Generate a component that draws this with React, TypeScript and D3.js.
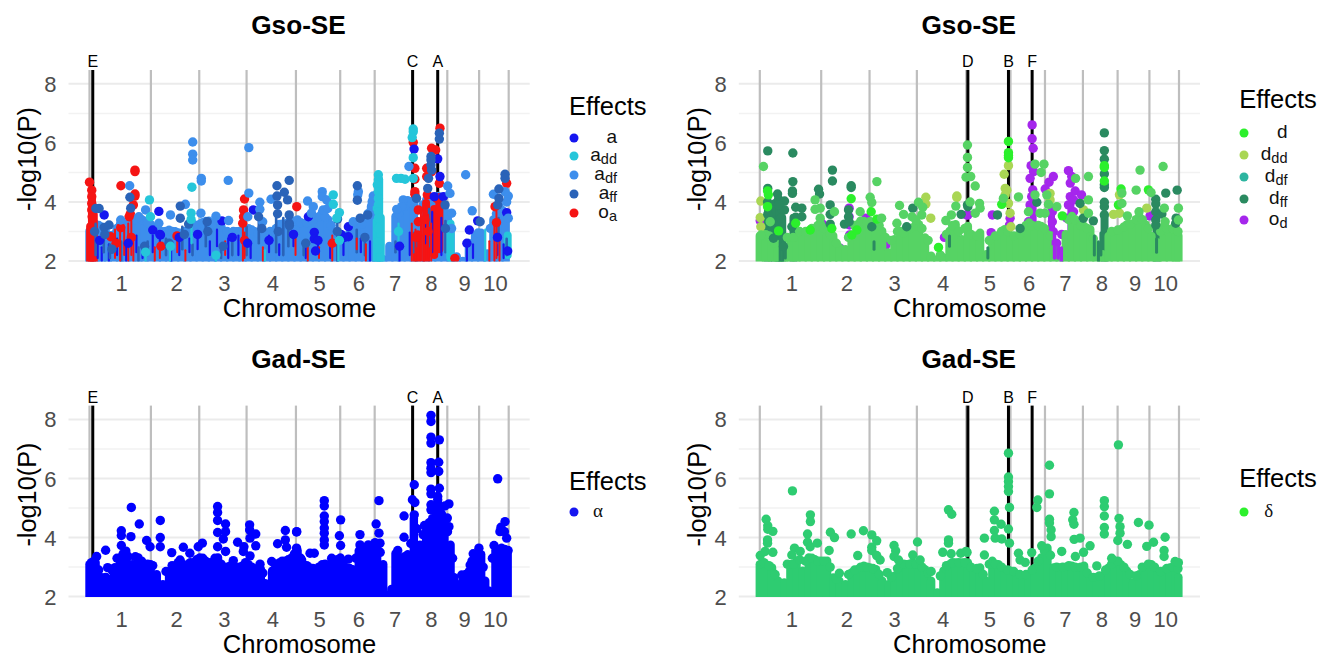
import React from 'react';
import * as d3 from 'd3';

type Dot = [number, number];
type Stem = [number, number];
type Streak = [number, number, number];

// cumulative chromosome ends, Mb
const chromEnds = [301, 538, 770, 1012, 1229, 1398, 1584, 1754, 1910, 2055];
const chromLabels = ['1', '2', '3', '4', '5', '6', '7', '8', '9', '10'];
const yTicks = [2, 4, 6, 8];
const yMinor = [3, 5, 7];

const additiveMarkers: [string, number][] = [['E', 16], ['C', 1584], ['A', 1707]];
const dominanceMarkers: [string, number][] = [['D', 1020], ['B', 1219], ['F', 1335]];

// Gso-SE additive, top left
const gsoAdfMass: Stem[] = [[0,3.16],[30,3.4],[60,3.3],[90,3.05],[120,3.05],[150,3.4],[180,3.4],[210,3.5],[240,3.55],[270,3.5],[300,3.4],[330,3.15],[360,3.15],[390,3.2],[420,3.15],[450,3.0],[480,3.15],[510,3.4],[540,3.4],[570,3.5],[600,3.4],[630,3.4],[660,3.15],[690,3.1],[720,3.15],[750,3.15],[780,3.25],[810,3.15],[840,3.05],[870,3.05],[900,3.15],[930,3.4],[960,3.4],[990,3.5],[1020,3.55],[1050,3.3],[1080,3.55],[1110,3.55],[1140,3.8],[1170,3.55],[1200,3.1],[1230,3.0],[1260,3.0],[1290,3.1],[1320,3.3],[1350,3.55],[1380,4.0],[1405,3.9],[1440,2.2],[1470,2.65],[1500,3.65],[1530,3.9],[1560,4.2],[1590,4.2],[1620,3.3],[1650,4.2],[1680,4.1],[1710,4.35],[1740,4.0],[1770,3.1],[1800,2.3],[1830,2.1],[1860,2.75],[1890,3.0],[1920,3.1],[1950,2.4],[1980,3.55],[2010,4.0],[2040,3.55]];
const gsoAdfRidge: Dot[] = [[15,3.0],[45,3.2],[75,3.05],[105,2.85],[135,3.1],[165,3.2],[195,3.3],[225,3.4],[255,3.4],[285,3.3],[315,3.1],[345,3.0],[375,3.0],[405,3.0],[435,2.95],[465,3.0],[495,3.1],[525,3.2],[555,3.3],[585,3.35],[615,3.25],[645,3.15],[675,3.0],[705,3.0],[735,3.0],[765,3.05],[795,3.05],[825,2.95],[855,2.9],[885,3.0],[915,3.1],[945,3.25],[975,3.3],[1005,3.35],[1035,3.3],[1065,3.3],[1095,3.4],[1125,3.5],[1155,3.5],[1185,3.2],[1215,2.95],[1245,2.85],[1275,2.9],[1305,3.05],[1335,3.25],[1365,3.6],[1515,3.6],[1545,3.85],[1575,4.0],[1635,3.9],[1665,4.0],[1695,4.1],[1725,4.0],[1755,3.4],[1905,2.95],[1965,3.1],[1995,3.6],[2025,3.7]];
const gsoOaColumns: Streak[] = [[3,2,3.3],[12,2,4.3],[21,2,3.7],[1603,2,2.9],[1650,2,4.1],[1690,2.2,3.9],[1715,2.4,4.3]];
const gsoAddColumns: Streak[] = [[1408,2,4.4],[1420,2,4.9],[1428,2,3.6],[2050,2.2,3.0],[1770,2.1,3.4]];
const gsoOaStreaks: Streak[] = [[125,2.1,3.1],[150,2,3.0],[170,2.2,3.2],[190,2,3.3],[205,2.2,3.4],[215,2,2.9],[320,2,2.5],[345,2.1,2.6],[430,2.3,2.9],[470,2,2.4],[665,2.2,2.7],[752,2,3.3],[760,2.1,3.0],[850,2,2.5],[1010,2.2,3.0],[1070,2,2.6],[1125,2.1,2.5],[1190,2,2.9],[1310,2.4,2.8],[1355,2,2.6],[1580,2,3.3],[1598,2,3.1],[1625,2,3.7],[1640,2,3.9],[1660,2.1,3.6],[1675,2,3.3],[1700,2.2,3.6],[1985,2,3.4],[1995,2.1,3.7],[2010,2,2.8],[1960,2,2.7]];
const gsoAStreaks: Streak[] = [[40,2.1,2.6],[60,2,2.5],[95,2,2.6],[135,2.2,2.8],[180,2,2.5],[230,2.3,2.9],[260,2.1,2.6],[310,2.3,2.9],[345,2.5,3.0],[400,2,2.4],[440,2.2,2.7],[490,2.3,2.8],[530,2.4,3.0],[590,2.2,2.7],[625,2.5,3.1],[680,2.1,2.8],[730,2.2,2.9],[790,2.1,2.6],[880,2.3,2.9],[930,2.2,2.6],[1000,2.5,3.0],[1060,2.1,2.7],[1120,2.3,2.8],[1180,2.1,2.6],[1245,2.2,2.8],[1330,2.3,2.8],[1375,2,2.7],[1520,2,2.6],[1570,2.2,3.0],[1645,2.6,3.3],[1680,2.3,3.7],[1725,2.2,3.5],[1850,2,2.7],[1880,2.1,2.6],[2000,2.2,3.0],[2030,2.1,2.6]];
const gsoAffStreaks: Streak[] = [[30,2.2,3.3],[70,2.3,3.1],[100,2.1,2.6],[155,2,2.7],[240,2,2.5],[285,2.2,2.7],[375,2.2,2.8],[455,2.4,3.2],[505,2.2,2.6],[570,2.5,3.3],[645,2.1,2.6],[700,2.2,2.8],[770,2.2,3.2],[830,2.6,3.4],[915,2.3,3.6],[950,2.2,3.5],[975,2.5,3.6],[1050,2.2,2.7],[1215,2,3.3],[1310,2.3,3.1],[1350,2.2,2.9],[1500,2.3,2.7],[1590,2.3,3.0],[1600,2.5,2.9],[1665,2.5,3.8],[1745,2.3,3.4],[2005,2.6,3.5],[2045,2.2,2.8]];
const gsoAddStreaks: Streak[] = [[275,2,2.4],[395,2,2.5],[500,2.6,3.4],[620,2,2.3],[860,2,2.4],[1220,2,3.1],[1940,2,3.1],[1515,2.6,3.3],[1755,2.1,3.0]];

const gsoOa: Dot[] = [[0,4.67],[11,4.4],[11,4.18],[11,3.95],[11,3.73],[13,3.5],[154,4.55],[223,5.03],[223,5.08],[223,4.27],[223,4.2],[215,3.9],[200,3.6],[153,3.13],[194,3.5],[104,2.82],[429,2.85],[760,4.1],[755,3.73],[755,3.5],[751,3.28],[1016,3.84],[1587,6.02],[1595,5.14],[1595,4.77],[1595,4.35],[1595,4.26],[1718,6.5],[1697,5.76],[1677,5.82],[1715,4.63],[1653,5.14],[1653,4.86],[1677,5.03],[1656,4.24],[1988,3.84],[2045,4.63],[1612,3.73],[1612,3.33],[1609,2.88],[1702,4.12],[1791,2.09],[130,2.6],[205,2.8],[350,2.5],[760,2.7],[1190,2.6],[1600,2.8],[1645,3.4],[1660,3.0],[1995,3.3]];
const gsoA: Dot[] = [[340,3.68],[72,3.56],[803,3.73],[649,3.36],[310,3.05],[348,2.88],[1591,5.79],[1073,3.5],[1102,2.97],[1102,2.75],[1269,3.16],[1269,2.82],[1233,2.9],[1862,3.05],[1903,3.36],[2045,3.64],[2050,2.34],[1707,5.46],[1718,4.86],[1735,4.18],[1690,4.18],[1108,2.34],[50,2.7],[190,2.6],[345,2.9],[440,2.8],[530,2.9],[700,2.8],[775,2.6],[880,2.7],[1000,2.9],[1120,2.7],[1250,2.8],[1520,2.5],[1850,2.6],[2000,2.8]];
const gsoAdf: Dot[] = [[197,4.55],[506,6.03],[506,5.62],[506,5.42],[548,4.8],[548,4.71],[680,4.73],[781,5.84],[781,4.3],[470,3.92],[397,3.56],[340,3.28],[835,3.99],[835,3.75],[890,4.09],[546,3.62],[620,3.52],[682,3.37],[275,3.73],[153,3.39],[242,3.5],[776,3.5],[849,3.33],[1566,5.2],[1141,4.35],[1141,4.18],[1069,4.03],[1163,4.07],[1097,3.84],[1146,3.73],[1088,3.62],[1168,3.78],[1391,4.2],[1386,4.01],[1538,4.07],[1530,3.84],[1506,3.75],[1844,4.92],[1876,3.7],[1980,4.26],[1756,4.54],[1767,4.29],[1775,3.62],[1775,3.1],[2053,4.2],[2045,4.0],[2053,3.45],[2037,4.35],[1293,3.33],[1380,3.56],[1318,4.35],[1315,4.24]];
const gsoAff: Dot[] = [[198,4.16],[445,3.86],[47,3.78],[31,3.78],[445,3.45],[486,3.25],[577,3.33],[919,4.55],[979,4.73],[955,4.33],[971,4.07],[919,4.2],[922,3.9],[922,3.6],[979,3.56],[979,3.28],[829,3.5],[72,3.14],[96,3.22],[202,3.79],[1313,4.55],[1313,4.06],[2037,4.94],[2037,4.8],[2007,4.44],[2001,3.9],[2007,4.12],[1674,5.25],[1674,5.54],[1674,5.42],[1715,6.33],[1715,6.13],[1658,4.46],[1662,4.8],[1216,3.42],[1364,3.56],[1327,3.45],[1603,4.12],[1743,3.9],[1677,5.08],[1915,3.33],[25,3.0],[75,2.9],[110,2.4],[270,2.5],[390,2.6],[465,2.9],[580,3.0],[655,2.5],[845,3.1],[925,3.0],[980,3.2],[1060,2.6],[1215,3.0],[1350,2.8],[1745,3.1]];
const gsoAdd: Dot[] = [[502,4.5],[294,4.07],[299,3.5],[498,3.62],[498,3.41],[397,2.5],[1587,6.47],[1587,6.38],[1582,6.18],[1587,5.5],[1587,4.8],[1416,4.92],[1416,4.75],[1411,4.58],[1416,4.35],[1416,4.12],[1416,3.9],[1416,3.67],[1416,3.45],[1416,3.1],[1416,2.65],[1418,2.4],[1195,4.24],[1195,3.92],[1225,3.64],[1212,3.45],[1527,4.8],[1547,4.77],[1505,4.8],[275,2.3],[620,2.2],[1515,3.0],[1225,2.7]];

// Gso-SE dominance, top right
const gsoDfMass: Stem[] = [[0,3.0],[30,3.05],[60,2.88],[90,2.65],[120,2.43],[150,2.77],[180,2.88],[210,3.0],[240,3.1],[270,3.16],[300,3.39],[330,3.05],[360,3.0],[390,2.6],[420,2.54],[450,2.94],[480,3.39],[510,3.5],[540,3.5],[570,3.39],[600,3.16],[630,2.43],[660,2.88],[690,3.16],[720,3.05],[750,3.28],[780,3.39],[810,2.94],[840,2.32],[870,2.2],[900,2.26],[930,3.16],[960,3.39],[990,2.88],[1020,3.33],[1050,2.99],[1080,3.1],[1110,2.37],[1140,2.88],[1170,2.99],[1200,3.22],[1230,2.99],[1260,2.99],[1290,3.1],[1320,3.45],[1350,3.33],[1380,3.33],[1410,3.05],[1440,2.54],[1470,2.2],[1500,3.05],[1530,3.67],[1560,3.33],[1590,3.33],[1620,3.22],[1650,2.65],[1680,2.37],[1710,2.99],[1740,3.1],[1770,3.22],[1800,3.39],[1830,3.33],[1860,3.67],[1890,3.39],[1920,2.99],[1950,2.77],[1980,3.33],[2010,2.99],[2040,3.22],[2052,3.0]];
const gsoDfRidge: Dot[] = [[15,2.9],[45,2.85],[75,2.6],[135,2.8],[165,2.8],[195,3.0],[225,3.0],[255,3.1],[285,3.2],[315,3.1],[345,2.9],[375,2.6],[435,2.8],[465,3.2],[495,3.35],[525,3.3],[555,3.3],[585,3.2],[615,2.8],[645,2.7],[675,3.0],[705,2.95],[735,3.1],[765,3.2],[795,3.1],[825,2.7],[885,2.2],[915,2.9],[945,3.2],[975,3.0],[1005,3.1],[1035,2.9],[1065,2.85],[1125,2.7],[1155,2.85],[1185,3.0],[1215,3.0],[1245,2.85],[1275,2.9],[1305,3.2],[1335,3.2],[1365,3.2],[1395,3.1],[1425,2.85],[1515,3.4],[1545,3.4],[1575,3.2],[1605,3.1],[1635,2.75],[1725,3.0],[1755,3.05],[1785,3.15],[1815,3.25],[1845,3.4],[1875,3.4],[1905,3.1],[1965,3.0],[1995,3.1],[2025,3.1],[2050,3.0]];
const gsoDffColumns: Streak[] = [[40,2,3.9],[75,2,4.1],[95,2,4.0],[110,2,3.6],[165,2,3.6],[1690,2,3.6],[1945,2,3.3]];
const gsoDffStreaks: Streak[] = [[100,2,2.7],[112,2,2.5],[125,2.1,2.5],[1118,2.1,2.5],[1640,2.2,2.9],[1660,2,2.7],[1672,2.2,3.0],[1945,2.3,2.8],[560,2.4,2.7],[930,2.5,2.9]];
const gsoOdStreaks: Streak[] = [[1445,2.1,3.0],[1462,2.1,2.7],[1478,2,2.5]];
const gsoOdColumns: Streak[] = [[1340,2.6,4.0],[1430,2.4,3.9],[1525,2.8,4.1]];
const gsoOd: Dot[] = [[438,3.79],[438,3.5],[440,3.22],[516,3.28],[520,3.45],[440,2.88],[905,2.8],[1020,3.56],[51,2.54],[618,2.54],[394,2.43],[304,3.28],[2,3.36],[1335,6.61],[1335,6.14],[1340,5.82],[1330,5.23],[1342,5.03],[1325,4.8],[1338,4.41],[1333,4.18],[1325,3.9],[1317,3.33],[1358,2.99],[1439,4.86],[1418,4.67],[1399,4.44],[1434,3.67],[1434,3.33],[1439,2.99],[1455,2.6],[1480,2.9],[1477,2.32],[1513,5.06],[1522,4.64],[1529,4.86],[1546,4.37],[1577,4.24],[1522,4.18],[1513,3.9],[1538,4.07],[1538,3.67],[1505,3.45],[1140,3.56],[1134,2.96],[1227,3.45],[1224,3.22],[1913,3.53],[1014,3.56]];
const gsoDdd: Dot[] = [[5,4.03],[2,3.47],[5,3.16],[814,4.16],[814,3.93],[838,3.45],[966,4.2],[966,4.15],[1219,5.23],[1198,4.94],[1203,4.46],[1211,4.4],[1203,4.24],[1227,3.62],[1231,3.16],[1423,4.29],[1423,4.07],[1587,3.73],[1763,4.24],[1763,3.62],[1734,3.58],[1897,3.79],[1219,3.95]];
const gsoDff: Dot[] = [[39,5.73],[162,5.66],[356,5.08],[356,4.71],[162,4.69],[160,4.37],[160,4.29],[39,4.46],[288,4.43],[293,4.27],[448,4.55],[448,4.49],[87,4.27],[92,4.09],[121,4.03],[108,3.75],[121,3.73],[92,3.9],[38,4.0],[39,3.58],[345,3.9],[345,3.58],[345,3.25],[176,3.82],[206,3.79],[176,3.48],[206,3.5],[157,3.16],[435,3.73],[435,3.5],[415,3.25],[438,3.33],[549,3.16],[750,3.79],[720,3.16],[987,3.58],[1018,3.9],[103,3.45],[116,2.49],[67,2.77],[1689,6.34],[1689,5.74],[1689,5.45],[1689,4.95],[1689,4.58],[1689,4.49],[1689,3.99],[1689,3.84],[1689,3.56],[1941,4.09],[1941,3.93],[1941,3.67],[1941,3.39],[1941,3.22],[1990,4.3],[2046,4.4],[2041,3.45],[2039,3.28],[1358,3.99],[1570,3.95],[1635,3.36],[1971,3.59],[1165,3.56],[1276,3.1],[1020,3.84],[1586,3.45]];
const gsoD: Dot[] = [[38,4.37],[42,4.24],[38,3.84],[448,4.11],[92,3.02],[176,3.28],[247,3.05],[546,3.67],[574,3.42],[451,2.88],[876,2.46],[476,3.05],[353,3.1],[1219,6.05],[1219,5.67],[1219,5.57],[1219,5.5],[1689,5.23],[1689,5.17],[1689,4.71],[1771,4.44],[1905,4.41],[1186,3.92],[1483,3.53],[1758,3.9]];
const gsoDfLight: Dot[] = [[18,5.2],[574,4.69],[271,4.07],[271,3.75],[296,3.79],[366,3.67],[541,4.16],[549,3.98],[597,3.45],[685,3.88],[705,3.58],[746,3.5],[778,3.99],[799,3.82],[794,3.56],[765,3.39],[672,3.28],[961,3.86],[939,3.56],[912,3.37],[1018,5.93],[1018,5.51],[1018,5.17],[1011,4.84],[1034,4.86],[1031,4.0],[51,3.33],[7,2.88],[296,3.45],[492,3.67],[1349,5.28],[1393,5.28],[1379,5.0],[1864,5.08],[1977,5.2],[1611,4.86],[1548,4.8],[1056,4.54],[1077,3.95],[1080,3.79],[1056,3.62],[1268,4.17],[1349,4.24],[1407,4.24],[1415,3.92],[1456,3.84],[1611,4.07],[1611,3.62],[1775,4.3],[1775,3.95],[1845,4.4],[1918,4.32],[1983,3.79],[2052,3.79],[1802,3.53],[1859,3.67],[1317,3.67],[1374,3.62],[1398,3.62],[1194,4.12],[2052,3.39],[1987,3.33]];

// Gad-SE additive, bottom left
const gadAlphaMass: Stem[] = [[0,3.24],[30,3.3],[60,2.8],[90,2.73],[120,2.96],[150,3.47],[180,3.7],[210,3.24],[240,3.47],[270,3.2],[300,3.24],[330,2.9],[360,2.56],[390,2.96],[420,3.2],[450,3.3],[480,3.24],[510,3.3],[540,3.47],[570,3.36],[600,3.3],[630,3.47],[660,3.07],[690,3.2],[720,3.02],[750,3.2],[780,3.24],[810,3.02],[840,3.07],[862,2.6],[895,3.02],[930,3.3],[960,3.36],[990,3.47],[1020,3.7],[1050,3.24],[1080,3.13],[1110,3.0],[1140,3.24],[1170,3.13],[1200,3.36],[1230,3.47],[1260,3.13],[1290,3.07],[1320,3.7],[1350,3.8],[1380,3.8],[1410,3.92],[1440,3.24],[1460,2.2],[1480,2.4],[1500,3.6],[1530,3.47],[1560,3.58],[1590,4.8],[1620,3.9],[1650,4.37],[1680,4.8],[1710,5.3],[1740,4.7],[1770,3.9],[1788,2.8],[1805,2.56],[1830,2.73],[1860,3.0],[1890,3.47],[1920,3.58],[1940,2.68],[1960,2.34],[1990,3.7],[2020,3.8],[2050,3.7]];
const gadAlphaRidge: Dot[] = [[10,3.15],[22,3.2],[45,2.9],[80,2.65],[110,2.9],[135,3.3],[165,3.45],[190,3.35],[225,3.35],[255,3.2],[285,3.1],[310,3.05],[375,2.85],[405,3.05],[435,3.15],[465,3.05],[495,3.15],[525,3.25],[555,3.3],[585,3.15],[615,3.3],[645,3.1],[675,3.0],[705,3.05],[735,3.0],[765,3.15],[795,3.0],[825,2.95],[850,2.8],[910,3.1],[945,3.2],[975,3.25],[1005,3.45],[1035,3.3],[1065,3.05],[1095,2.95],[1125,3.0],[1155,3.1],[1185,3.1],[1215,3.25],[1245,3.2],[1275,2.95],[1305,3.3],[1335,3.6],[1365,3.6],[1395,3.7],[1425,3.5],[1515,3.3],[1545,3.35],[1575,3.8],[1605,4.3],[1635,4.1],[1665,4.5],[1695,4.9],[1725,4.8],[1755,4.2],[1780,3.3],[1845,2.75],[1875,3.2],[1905,3.4],[1930,3.0],[1975,3.3],[2005,3.6],[2035,3.6]];
const gadAlpha: Dot[] = [[205,5.02],[244,4.46],[347,4.58],[79,3.57],[156,4.23],[156,4.07],[156,3.73],[203,4.03],[280,3.9],[347,4.0],[347,3.69],[297,3.69],[403,3.49],[460,3.67],[492,3.47],[553,3.81],[533,3.69],[628,5.05],[628,4.85],[628,4.58],[628,4.17],[667,4.46],[667,4.2],[656,3.95],[628,3.69],[667,3.53],[726,3.84],[785,4.43],[785,4.26],[815,4.12],[787,3.98],[815,3.72],[757,3.69],[754,3.53],[787,3.38],[960,4.24],[960,3.92],[1015,4.19],[922,3.79],[1015,3.64],[966,3.67],[89,2.98],[125,2.98],[35,3.36],[444,3.24],[705,3.22],[836,3.1],[893,3.19],[1040,3.24],[1674,8.14],[1674,7.93],[1674,7.4],[1674,7.2],[1715,7.31],[1674,6.54],[1674,6.35],[1674,6.2],[1712,6.55],[1712,6.24],[1715,5.67],[1674,5.64],[1674,5.48],[1707,5.39],[1707,5.28],[1674,5.11],[1674,4.94],[1742,5.07],[1762,5.14],[1592,5.79],[1583,5.28],[1595,5.19],[1542,4.73],[1542,4.01],[1642,4.41],[1592,4.77],[2001,5.99],[1151,5.25],[1151,5.07],[1151,4.73],[1151,4.54],[1151,4.32],[1151,4.15],[1151,3.92],[1151,3.75],[1231,4.6],[1225,4.06],[1231,3.73],[1419,5.25],[1405,4.46],[1419,4.15],[1326,4.1],[1326,3.75],[1269,3.27],[1016,4.2],[1081,3.47],[1102,3.47],[1187,3.3],[1367,3.75],[1400,3.83],[1424,3.81],[1511,3.56],[2037,4.54],[2017,4.35],[2034,4.2],[2012,4.2],[2045,3.98],[1983,3.73],[1909,3.64],[1881,3.45],[1866,3.07],[1825,2.73],[2052,3.56],[1762,4.37],[1754,4.66]];

// Gad-SE dominance, bottom right
const gadDeltaMass: Stem[] = [[0,3.24],[30,3.24],[60,3.13],[90,2.68],[120,2.62],[150,3.24],[180,3.36],[210,3.02],[240,3.47],[270,3.41],[300,3.36],[330,3.36],[360,2.79],[390,2.68],[420,2.56],[450,2.96],[480,3.07],[510,3.19],[540,3.13],[570,3.07],[600,2.68],[630,2.56],[660,2.85],[690,3.19],[720,3.24],[750,3.3],[780,3.24],[810,3.07],[840,2.68],[870,2.28],[900,3.02],[930,3.24],[960,3.3],[990,3.3],[1020,3.3],[1050,3.07],[1080,3.13],[1110,2.68],[1140,3.36],[1170,3.24],[1200,3.02],[1230,3.02],[1260,2.9],[1290,2.8],[1320,2.9],[1350,3.13],[1380,3.47],[1410,3.8],[1440,3.13],[1470,3.13],[1500,3.13],[1530,3.19],[1560,3.13],[1590,3.19],[1620,2.8],[1650,2.8],[1680,2.85],[1710,3.13],[1740,3.36],[1770,3.24],[1800,3.02],[1830,2.62],[1860,2.9],[1890,3.13],[1920,3.24],[1950,2.9],[1980,3.02],[2010,3.13],[2040,3.13],[2052,2.8]];
const gadDeltaRidge: Dot[] = [[10,3.1],[20,3.15],[45,3.05],[75,2.75],[135,3.1],[165,3.1],[195,3.25],[225,3.2],[255,3.3],[285,3.2],[315,3.2],[345,3.0],[375,2.6],[435,2.75],[465,2.9],[495,3.0],[525,3.0],[555,2.95],[585,2.75],[645,2.65],[675,2.95],[705,3.1],[735,3.1],[765,3.1],[795,3.0],[825,2.8],[885,2.7],[915,3.05],[945,3.15],[975,3.15],[1005,3.15],[1035,3.0],[1065,2.95],[1095,2.75],[1125,3.1],[1155,3.1],[1185,3.0],[1215,2.9],[1245,2.85],[1275,2.75],[1305,2.75],[1335,2.9],[1365,3.2],[1395,3.55],[1425,3.4],[1455,3.0],[1485,3.0],[1515,3.05],[1545,3.0],[1575,3.0],[1605,2.8],[1635,2.65],[1665,2.7],[1695,2.9],[1725,3.1],[1755,3.2],[1785,3.0],[1815,2.75],[1845,2.7],[1875,3.0],[1905,3.1],[1935,3.0],[1965,2.85],[1995,2.95],[2025,3.0],[2050,2.95]];
const gadDelta: Dot[] = [[31,4.62],[39,4.4],[39,4.28],[64,4.21],[38,3.92],[38,3.81],[2,3.39],[26,3.53],[64,3.5],[160,5.58],[248,4.77],[248,4.54],[234,4.12],[234,3.84],[247,3.69],[282,3.81],[340,3.56],[170,3.64],[198,3.53],[157,3.41],[346,4.18],[366,4.0],[448,4.12],[508,4.23],[549,4.09],[573,3.89],[549,3.67],[549,3.56],[480,3.39],[573,3.39],[590,3.24],[658,3.73],[666,3.55],[658,3.36],[680,3.24],[773,3.85],[925,4.94],[941,4.79],[925,3.92],[925,3.81],[897,3.5],[938,3.45],[985,3.47],[1011,3.53],[390,2.79],[625,2.81],[840,2.85],[750,3.41],[786,3.24],[1219,6.86],[1219,6.05],[1219,5.9],[1219,5.73],[1219,5.56],[1224,5.02],[1219,4.29],[1224,3.81],[1420,6.45],[1420,5.48],[1363,5.27],[1358,5.02],[1150,4.89],[1150,4.6],[1183,4.45],[1150,4.24],[1101,3.98],[1154,3.98],[1186,3.95],[1101,3.41],[1268,3.47],[1276,3.24],[1301,3.16],[1333,3.49],[1382,3.72],[1420,4.62],[1420,4.49],[1428,4.26],[1428,4.03],[1480,3.53],[1540,4.85],[1534,4.6],[1540,4.45],[1541,3.94],[1570,3.98],[1619,3.72],[1547,3.36],[1587,3.5],[1652,3.04],[1689,5.25],[1689,5.05],[1689,4.73],[1689,4.34],[1689,4.12],[1758,7.14],[1761,4.65],[1766,4.37],[1766,4.15],[1755,3.9],[1802,3.77],[1856,4.51],[1908,4.42],[1930,3.84],[1897,3.7],[1987,4.01],[1982,3.56],[1982,3.36],[2036,3.19],[2052,3.15],[1725,3.3],[1016,3.5]];

const W = 1331;
const H = 657;
const FONT = '"Liberation Sans", Arial, sans-serif';

const x = d3.scaleLinear().domain([0, 2055]).range([89.5, 508.7]);
const y = d3.scaleLinear().domain([2, 8.47]).range([261, 70]);
const chromStarts = [0, ...chromEnds.slice(0, -1)];
const chromMids = chromEnds.map((e, i) => (e + chromStarts[i]) / 2);

const toStreak = (rows: Stem[]): Streak[] => rows.map(([p, top]) => [p, 2, top]);

type Layer = { rows: Streak[]; colour: string; width: number } | { dots: Dot[]; colour: string };
type LegendItem = { base: string; sub?: string; colour: string; serif?: boolean };

const BLUE = '#1616f0', CYAN = '#25c6da', SKY = '#3d8eec', NAVY = '#2a63b8', RED = '#f51414';
const LIME = '#2cf02c', OLIVE = '#a9d654', TEAL = '#2db5a0', PINE = '#2a8a60', VIOLET = '#a526ec';
const LIGHT = '#56d364', SEA = '#2ecc71';

const panels: {
  title: string; dx: number; dy: number; titleDy: number; markers: [string, number][];
  layers: Layer[]; legend: LegendItem[]; legendTitleY: number; legendYs: number[]; keyX: number; labelX: number;
}[] = [
  {
    title: 'Gso-SE', dx: 0, dy: 0, titleDy: 0, markers: additiveMarkers,
    layers: [
      { rows: toStreak(gsoAdfMass), colour: SKY, width: 8.4 },
      { dots: gsoAdfRidge, colour: SKY },
      { rows: gsoOaColumns, colour: RED, width: 8 },
      { rows: gsoAddColumns, colour: CYAN, width: 8 },
      { rows: gsoAStreaks, colour: BLUE, width: 2.2 },
      { rows: gsoAffStreaks, colour: NAVY, width: 2.6 },
      { rows: gsoOaStreaks, colour: RED, width: 2 },
      { rows: gsoAddStreaks, colour: CYAN, width: 2.2 },
      { dots: gsoOa, colour: RED },
      { dots: gsoA, colour: BLUE },
      { dots: gsoAdf, colour: SKY },
      { dots: gsoAff, colour: NAVY },
      { dots: gsoAdd, colour: CYAN },
    ],
    legend: [
      { base: 'a', colour: BLUE },
      { base: 'a', sub: 'dd', colour: CYAN },
      { base: 'a', sub: 'df', colour: SKY },
      { base: 'a', sub: 'ff', colour: NAVY },
      { base: 'o', sub: 'a', colour: RED },
    ],
    legendTitleY: 115, legendYs: [138, 156, 175, 194, 213], keyX: 574, labelX: 617,
  },
  {
    title: 'Gso-SE', dx: 670.3, dy: 0, titleDy: 0, markers: dominanceMarkers,
    layers: [
      { rows: gsoOdColumns, colour: VIOLET, width: 7 },
      { dots: gsoOd, colour: VIOLET },
      { rows: gsoDffColumns, colour: PINE, width: 8 },
      { rows: toStreak(gsoDfMass), colour: LIGHT, width: 8.4 },
      { dots: gsoDfRidge, colour: LIGHT },
      { rows: gsoDffStreaks, colour: PINE, width: 3 },
      { rows: gsoOdStreaks, colour: VIOLET, width: 3.5 },
      { dots: gsoDdd, colour: OLIVE },
      { dots: gsoDff, colour: PINE },
      { dots: gsoD, colour: LIME },
      { dots: gsoDfLight, colour: LIGHT },
    ],
    legend: [
      { base: 'd', colour: LIME },
      { base: 'd', sub: 'dd', colour: OLIVE },
      { base: 'd', sub: 'df', colour: TEAL },
      { base: 'd', sub: 'ff', colour: PINE },
      { base: 'o', sub: 'd', colour: VIOLET },
    ],
    legendTitleY: 108, legendYs: [133, 155, 177, 199, 220], keyX: 573.7, labelX: 617.2,
  },
  {
    title: 'Gad-SE', dx: 0, dy: 335.6, titleDy: -1.5, markers: additiveMarkers,
    layers: [
      { rows: toStreak(gadAlphaMass), colour: '#0000ff', width: 8.4 },
      { dots: gadAlphaRidge, colour: '#0000ff' },
      { dots: gadAlpha, colour: '#0000ff' },
    ],
    legend: [{ base: 'α', colour: BLUE, serif: true }],
    legendTitleY: 154, legendYs: [176.4], keyX: 574, labelX: 603,
  },
  {
    title: 'Gad-SE', dx: 670.3, dy: 335.6, titleDy: -1.5, markers: dominanceMarkers,
    layers: [
      { rows: toStreak(gadDeltaMass), colour: SEA, width: 8.4 },
      { dots: gadDeltaRidge, colour: SEA },
      { dots: gadDelta, colour: SEA },
    ],
    legend: [{ base: 'δ', colour: LIME, serif: true }],
    legendTitleY: 151, legendYs: [176.4], keyX: 573.7, labelX: 603,
  },
];

function Panel({ p, index }: { p: (typeof panels)[number]; index: number }) {
  const clipId = `plot-clip-${index}`;
  return (
    <g transform={`translate(${p.dx},${p.dy})`} fontFamily={FONT}>
      <clipPath id={clipId}>
        <rect x={60} y={40} width={480} height={y(2) + 0.5 - 40} />
      </clipPath>
      <text x={298.5} y={34 + p.titleDy} textAnchor="middle" fontSize={26.2} fontWeight="bold" fill="#000">{p.title}</text>

      {yMinor.map((t) => (
        <line key={t} x1={68.5} x2={529.7} y1={y(t)} y2={y(t)} stroke="#f2f2f2" strokeWidth={1.5} />
      ))}
      {yTicks.map((t) => (
        <line key={t} x1={68.5} x2={529.7} y1={y(t)} y2={y(t)} stroke="#ebebeb" strokeWidth={2} />
      ))}
      {[0, ...chromEnds].map((e) => (
        <line key={e} x1={x(e)} x2={x(e)} y1={y(2)} y2={y(8.47)} stroke="#bebebe" strokeWidth={2.2} />
      ))}
      {p.markers.map(([label, pos]) => (
        <g key={label}>
          <line x1={x(pos)} x2={x(pos)} y1={y(2)} y2={y(8.47)} stroke="#000" strokeWidth={3} />
          <text x={x(pos)} y={67} textAnchor="middle" fontSize={16} fill="#000">{label}</text>
        </g>
      ))}

      <g clipPath={`url(#${clipId})`}>
        {p.layers.map((l, i) =>
          'rows' in l ? (
            <g key={i} stroke={l.colour} strokeWidth={l.width} strokeLinecap="round">
              {l.rows.map(([pos, from, to], j) => (
                // round cap adds half the stroke above the read top edge
                <line key={j} x1={x(pos)} x2={x(pos)} y1={y(from)} y2={y(to) + l.width / 2} />
              ))}
            </g>
          ) : (
            <g key={i} fill={l.colour}>
              {l.dots.map(([pos, v], j) => (
                <circle key={j} cx={x(pos)} cy={y(v)} r={4.7} />
              ))}
            </g>
          ),
        )}
      </g>

      {yTicks.map((t) => (
        <text key={t} x={56.5} y={y(t) + 8} textAnchor="end" fontSize={22} fill="#4d4d4d">{t}</text>
      ))}
      {chromLabels.map((c, i) => (
        <text key={c} x={x(chromMids[i]) + 1.5} y={291} textAnchor="middle" fontSize={22} fill="#4d4d4d">{c}</text>
      ))}
      <text x={299.5} y={317} textAnchor="middle" fontSize={25.6} fill="#000">Chromosome</text>
      <text transform="translate(36,159) rotate(-90)" textAnchor="middle" fontSize={25.3} fill="#000">-log10(P)</text>

      <text x={569} y={p.legendTitleY} fontSize={25.5} fill="#000">Effects</text>
      {p.legend.map((item, i) => (
        <g key={i}>
          <circle cx={p.keyX} cy={p.legendYs[i]} r={4.5} fill={item.colour} />
          <text
            x={p.labelX}
            y={p.legendYs[i] + 5}
            textAnchor="end"
            fontSize={19}
            fill="#111"
            fontFamily={item.serif ? '"Liberation Serif", serif' : FONT}
          >
            {item.base}
            {item.sub && <tspan dy={3} fontSize={14.5}>{item.sub}</tspan>}
          </text>
        </g>
      ))}
    </g>
  );
}

export default function App() {
  return (
    <svg width={W} height={H} style={{ position: 'absolute', left: 0, top: 0, background: '#fff' }}>
      {panels.map((p, i) => (
        <Panel key={i} p={p} index={i} />
      ))}
    </svg>
  );
}
